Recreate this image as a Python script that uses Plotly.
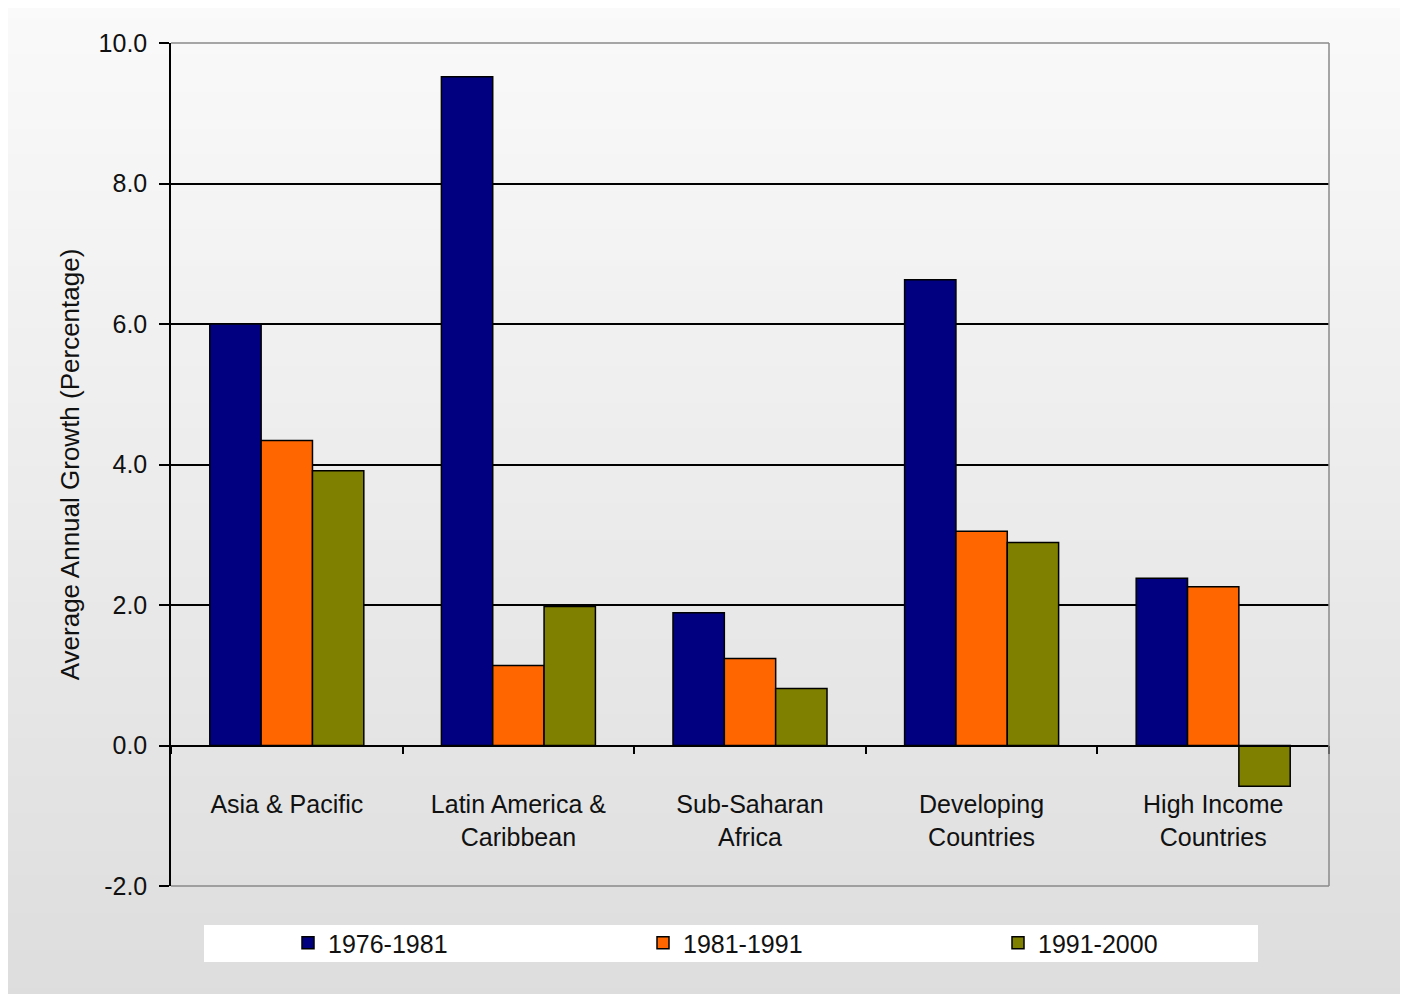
import plotly.graph_objects as go

categories = ["Asia & Pacific", "Latin America &<br>Caribbean", "Sub-Saharan<br>Africa",
              "Developing<br>Countries", "High Income<br>Countries"]
series_names = ["1976-1981", "1981-1991", "1991-2000"]
vals_1976_1981 = [6.0, 9.52, 1.89, 6.63, 2.38]
vals_1981_1991 = [4.34, 1.14, 1.24, 3.05, 2.26]
vals_1991_2000 = [3.91, 1.98, 0.81, 2.89, -0.58]
colors = ["#000080", "#FF6600", "#808000"]
y_ticks = [-2, 0, 2, 4, 6, 8, 10]

# page body adds an 8px offset; work in figure coordinates
OFF = 8
W, H = 1408, 994 - OFF
L, R, T, B = 171 - OFF, 1329 - OFF, 43 - OFF, 886 - OFF  # plot area in px

def px_x(p):
    return (p - OFF - L) / (R - L)

def px_y(p):
    return (B - (p - OFF)) / (B - T)

FONT = "Liberation Sans, Arial, sans-serif"
TXT = "#111111"

fig = go.Figure()
for name, vals, col in zip(series_names, [vals_1976_1981, vals_1981_1991, vals_1991_2000], colors):
    fig.add_trace(go.Bar(x=categories, y=vals, name=name,
                         marker=dict(color=col, line=dict(color="#000000", width=1.5))))

shapes = []
# vertical gradient background (reference pixel coordinates)
n = 80
top_px, bot_px = 5, 1000
c0, c1 = 250, 221
for i in range(n):
    y0p = top_px + (bot_px - top_px) * i / n
    y1p = top_px + (bot_px - top_px) * (i + 1) / n + 0.8
    c = round(c0 + (c1 - c0) * (i + 0.5) / n)
    shapes.append(dict(type="rect", xref="paper", yref="paper", layer="below",
                       x0=px_x(0), x1=px_x(1430), y0=px_y(y1p), y1=px_y(y0p),
                       line=dict(width=0), fillcolor=f"rgb({c},{c},{c})"))
# legend white box
shapes.append(dict(type="rect", xref="paper", yref="paper", layer="below",
                   x0=px_x(204), x1=px_x(1258), y0=px_y(962), y1=px_y(925),
                   line=dict(width=0), fillcolor="#ffffff"))
# gray frame (top, right, bottom)
frame = dict(color="#8a8a8a", width=1.5)
shapes.append(dict(type="line", xref="paper", yref="paper", layer="above",
                   x0=0, x1=1, y0=1, y1=1, line=frame))
shapes.append(dict(type="line", xref="paper", yref="paper", layer="above",
                   x0=1, x1=1, y0=0, y1=1, line=frame))
shapes.append(dict(type="line", xref="paper", yref="paper", layer="above",
                   x0=0, x1=1, y0=0, y1=0, line=frame))

fig.update_layout(
    width=W, height=H,
    margin=dict(l=L, r=W - R, t=T, b=H - B, autoexpand=False),
    paper_bgcolor="#ffffff",
    plot_bgcolor="rgba(0,0,0,0)",
    barmode="group", bargap=0.335, bargroupgap=0,
    font=dict(family=FONT, size=25, color=TXT),
    shapes=shapes,
    showlegend=True,
    legend=dict(orientation="h", x=px_x(288), xanchor="left", y=px_y(943), yanchor="middle",
                bgcolor="rgba(0,0,0,0)", font=dict(size=25, color=TXT),
                entrywidth=310, entrywidthmode="pixels", traceorder="normal"),
    yaxis=dict(range=[-2, 10], domain=[0, 1], tickvals=y_ticks,
               ticktext=[f"{v:.1f}" for v in y_ticks],
               showgrid=True, gridcolor="#000000", gridwidth=1.5,
               zeroline=False, showline=True, linecolor="#000000", linewidth=1.5,
               ticks="outside", ticklen=10, tickcolor="#000000", tickwidth=1.5,
               ticklabelstandoff=7,
               tickfont=dict(size=25, color=TXT),
               title=dict(text="Average Annual Growth (Percentage)", standoff=11,
                          font=dict(size=26, color=TXT))),
    xaxis=dict(type="category", anchor="free", position=2 / 12,
               showline=True, linecolor="#000000", linewidth=1.5,
               ticks="outside", tickson="boundaries", ticklen=8,
               tickcolor="#000000", tickwidth=1.5, showgrid=False,
               ticklabelstandoff=37,
               tickfont=dict(size=25, color=TXT)),
)

fig.write_html("out.html")
